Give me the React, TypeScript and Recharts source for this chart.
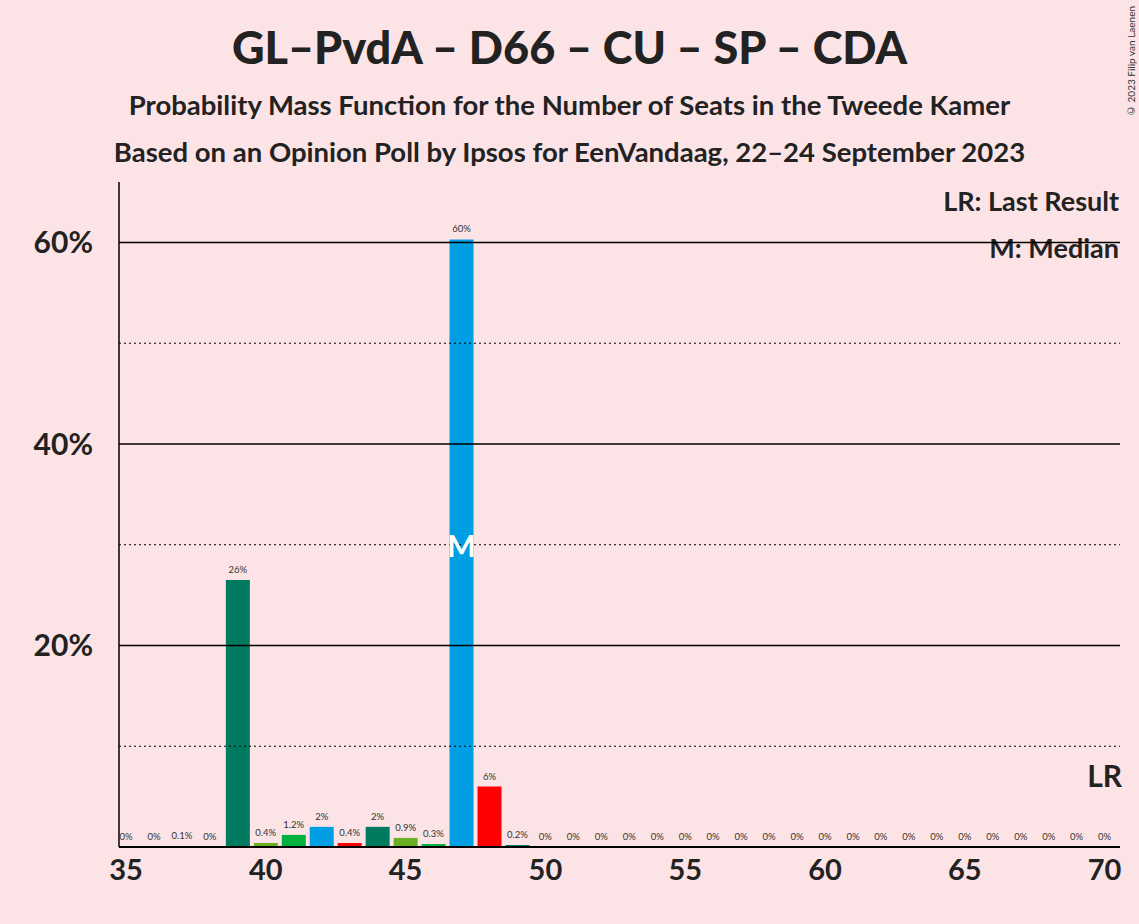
import React from 'react';
import { ComposedChart, Bar, Line, XAxis, YAxis, ReferenceLine, Cell, LabelList } from 'recharts';

const seats = [35,36,37,38,39,40,41,42,43,44,45,46,47,48,49,50,51,52,53,54,55,56,57,58,59,60,61,62,63,64,65,66,67,68,69,70];
const probs = [0,0,0.1,0,26.5,0.4,1.2,2,0.4,2,0.9,0.3,60.3,6,0.2,0,0,0,0,0,0,0,0,0,0,0,0,0,0,0,0,0,0,0,0,0];
const labels = ['0%','0%','0.1%','0%','26%','0.4%','1.2%','2%','0.4%','2%','0.9%','0.3%','60%','6%','0.2%','0%','0%','0%','0%','0%','0%','0%','0%','0%','0%','0%','0%','0%','0%','0%','0%','0%','0%','0%','0%','0%'];
const palette = ['#6AB023','#00B140','#009FE3','#FF0000','#007A5E'];
const xTicks = [35,40,45,50,55,60,65,70];
const yTicks = [20,40,60];
const dotted = [10,30,50];
const medianSeat = 47;
const lastResultSeat = 70;

const data = seats.map((s, i) => ({ seat: s, p: probs[i], label: labels[i] }));
const font = 'Lato, "Open Sans", sans-serif';

export default function App() {
  return (
    <div style={{ position: 'absolute', left: 0, top: 0, width: 1139, height: 924, background: '#FCE4E6', fontFamily: font }}>
      <div style={{ position: 'absolute', top: 20, width: 1139, textAlign: 'center', fontSize: 45, fontWeight: 900, color: '#222' }}>GL–PvdA – D66 – CU – SP – CDA</div>
      <div style={{ position: 'absolute', top: 88, width: 1139, textAlign: 'center', fontSize: 27.5, fontWeight: 700, color: '#222' }}>Probability Mass Function for the Number of Seats in the Tweede Kamer</div>
      <div style={{ position: 'absolute', top: 135, width: 1139, textAlign: 'center', fontSize: 27.5, fontWeight: 700, color: '#222' }}>Based on an Opinion Poll by Ipsos for EenVandaag, 22–24 September 2023</div>
      <div style={{ position: 'absolute', right: 20, top: 184, fontSize: 27, fontWeight: 700, color: '#222' }}>LR: Last Result</div>
      <div style={{ position: 'absolute', right: 20, top: 231, fontSize: 27, fontWeight: 700, color: '#222' }}>M: Median</div>
      <div style={{ position: 'absolute', right: 2, top: 6, fontSize: 10, color: '#333', writingMode: 'vertical-rl', transform: 'rotate(180deg)' }}>© 2023 Filip van Laenen</div>
      <ComposedChart width={1139} height={924} data={data} margin={{ top: 182, right: 19, bottom: 0, left: 0 }} style={{ position: 'absolute', left: 0, top: 0 }}>
        <XAxis dataKey="seat" type="number" domain={[34.75, 70.55]} ticks={xTicks} height={77} tickLine={false}
          axisLine={{ stroke: '#000', strokeWidth: 2 }} tick={{ fontSize: 29, fontWeight: 700, fill: '#222', fontFamily: font }} tickMargin={6} />
        <YAxis type="number" domain={[0, 66]} ticks={yTicks} width={119} tickLine={false}
          axisLine={{ stroke: '#000', strokeWidth: 1.5 }} tickFormatter={(v) => `${v}%`}
          tick={{ fontSize: 30, fontWeight: 700, fill: '#222', fontFamily: font }} tickMargin={20} />
        {dotted.map(v => <ReferenceLine key={'d' + v} y={v} stroke="#000" strokeDasharray="2 3" />)}
        {yTicks.map(v => <ReferenceLine key={'s' + v} y={v} stroke="#000" strokeWidth={1.5} />)}
        <Bar dataKey="p" barSize={24} isAnimationActive={false}>
          {data.map((d) => <Cell key={d.seat} fill={palette[d.seat % 5]} />)}
        </Bar>
        <Line dataKey="p" stroke="none" dot={false} activeDot={false} isAnimationActive={false}>
          <LabelList dataKey="label" position="top" offset={7} style={{ fontSize: 9.5, fill: '#333', fontFamily: font }} />
        </Line>
        <ReferenceLine x={medianSeat} stroke="none" label={{ value: 'M', position: 'center', fill: '#fff', fontSize: 30, fontWeight: 700, dy: 32 }} />
        <ReferenceLine x={lastResultSeat} stroke="none" label={{ value: 'LR', position: 'insideBottom', fill: '#222', fontSize: 30, fontWeight: 700, dy: -55 }} />
      </ComposedChart>
    </div>
  );
}
